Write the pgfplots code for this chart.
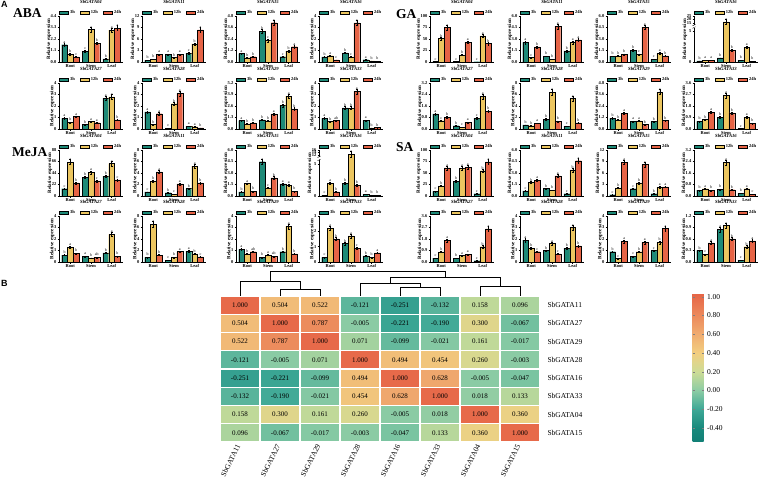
\documentclass[border=0pt]{standalone}
\usepackage{fontspec}
\setmainfont{Liberation Serif}
\newfontfamily\sansf{Liberation Sans}
\usepackage{pgfplots}
\usepackage{pgfplotstable}
\pgfplotsset{compat=1.18}

\definecolor{c3}{RGB}{30,138,120}
\definecolor{c12}{RGB}{236,198,96}
\definecolor{c24}{RGB}{230,100,70}
\newcommand{\fs}[1]{\fontsize{#1}{#1}\selectfont}

\pgfplotsset{
  /pgf/number format/assume math mode=true,
  chart/.style={
    anchor=north west, scale only axis, width=64pt, height=46pt,
    ybar=0pt, bar width=5.8pt, ymin=0, xmin=-0.55, xmax=2.55,
    axis lines=left, axis line style={-, line width=0.5pt},
    xtick={0,1,2}, xticklabels={Root,Stem,Leaf},
    tick align=outside, major tick length=1.5pt, tick style={line width=0.4pt, black},
    ticklabel style={font=\fs{4.5}\bfseries, inner sep=1pt},
    xticklabel style={inner sep=0.6pt},
    ylabel={Relative expression}, ylabel style={font=\fs{5}\bfseries}, ylabel shift=-5pt,
    title style={at={(0.5,1)}, anchor=south, yshift=6pt, inner sep=0pt, font=\fs{4.7}\bfseries\itshape},
    legend style={at={(0.5,1)}, anchor=south, draw=none, fill=none, legend columns=-1,
      font=\fs{4.5}\bfseries, inner sep=0pt, yshift=-1.5pt,
      /tikz/every even column/.append style={column sep=3pt}},
    clip=false,
  },
  bar/.style={draw=black, line width=0.3pt,
    error bars/y dir=both, error bars/y fixed relative=0.07,
    error bars/error bar style={line width=0.3pt, black},
    error bars/error mark options={rotate=90, mark size=0.9pt, line width=0.3pt, black},
    point meta=explicit symbolic, nodes near coords,
    every node near coord/.append style={font=\fs{4}, inner sep=0.3pt, yshift=1pt}},
  leg3/.style={legend image code/.code={\filldraw[fill=c3, draw=black, line width=0.2pt] (0pt,-1.6pt) rectangle (9pt,1.6pt);}},
  leg12/.style={legend image code/.code={\filldraw[fill=c12, draw=black, line width=0.2pt] (0pt,-1.6pt) rectangle (9pt,1.6pt);}},
  leg24/.style={legend image code/.code={\filldraw[fill=c24, draw=black, line width=0.2pt] (0pt,-1.6pt) rectangle (9pt,1.6pt);}},
  dec1/.style={yticklabel style={/pgf/number format/.cd, fixed, fixed zerofill, precision=1}},
  brkGA/.style={y coord trafo/.code={\pgfmathparse{(##1>10)*(6.37+(##1-15)*0.11)+(##1<=10)*(##1)}},
    yticklabels={0,5,15,20,25}},
  brkMJ/.style={y coord trafo/.code={\pgfmathparse{(##1>10)*(6.52+(##1-12)*0.19)+(##1<=10)*(##1)}},
    yticklabels={0,5,12,14,16}},
}

\newcommand{\chart}[8]{%
  \begin{axis}[chart, at={(#1pt,-#2pt)}, title={#3}, ymax=#4, ytick={#5}, #7]
    \addplot[bar, fill=c3, leg3] table[x=x, y=a, meta=la] {#6};
    \addplot[bar, fill=c12, leg12] table[x=x, y=b, meta=lb] {#6};
    \addplot[bar, fill=c24, leg24] table[x=x, y=c, meta=lc] {#6};
    \legend{3h,12h,24h}
    #8
  \end{axis}}

\newcommand{\brk}[2]{%
  \fill[white] ([xshift=-1.5pt]axis cs:-0.55,#1) rectangle ([xshift=1.5pt]axis cs:-0.55,#2);
  \draw[line width=0.4pt] ([xshift=-1.5pt,yshift=-0.8pt]axis cs:-0.55,#1) -- ++(3pt,1.6pt);
  \draw[line width=0.4pt] ([xshift=-1.5pt,yshift=-0.8pt]axis cs:-0.55,#2) -- ++(3pt,1.6pt);}

% ABA
\pgfplotstableread{
x a b c la lb lc
0 1.65 0.75 0.50 a b c
1 1.05 3.10 1.80 c a b
2 0.30 3.05 3.25 b a a
}\abaA
\pgfplotstableread{
x a b c la lb lc
0 0.45 0.70 2.00 b b a
1 2.00 1.15 2.00 a b a
2 2.30 4.70 8.40 c b a
}\abaB
\pgfplotstableread{
x a b c la lb lc
0 0.88 0.45 0.55 a b b
1 3.20 2.25 4.10 b c a
2 0.55 1.15 1.60 c b a
}\abaC
\pgfplotstableread{
x a b c la lb lc
0 0.45 0.55 0.18 b a c
1 0.80 0.45 3.40 b c a
2 0.20 0.10 0.08 a b b
}\abaD
\pgfplotstableread{
x a b c la lb lc
0 0.93 0.58 1.08 a b a
1 0.38 0.64 0.55 b a a
2 2.69 2.80 0.79 a a b
}\abaE
\pgfplotstableread{
x a b c la lb lc
0 1.48 0.39 1.33 a b a
1 0.06 2.20 3.10 c b a
2 0.22 0.20 0.10 a a b
}\abaF
\pgfplotstableread{
x a b c la lb lc
0 0.95 0.57 0.68 a b b
1 1.03 0.91 1.71 b b a
2 2.66 3.72 2.28 b a b
}\abaG
\pgfplotstableread{
x a b c la lb lc
0 0.93 0.64 0.73 a b ab
1 1.84 1.82 3.27 b b a
2 0.75 0.10 0.12 a b b
}\abaH
% GA
\pgfplotstableread{
x a b c la lb lc
0 1.0 51 75 c b a
1 1.0 15 43 c b a
2 0.6 57 40 c a b
}\gaA
\pgfplotstableread{
x a b c la lb lc
0 2.56 0.57 1.98 a c b
1 0.75 0.35 4.67 b b a
2 1.45 2.56 2.87 b a a
}\gaB
\pgfplotstableread{
x a b c la lb lc
0 0.75 0.80 1.01 b b b
1 1.54 1.01 4.54 b c a
2 0.35 1.15 0.80 c a b
}\gaC
\pgfplotstableread{
x a b c la lb lc
0 0.20 0.30 0.30 b a a
1 0.66 16.5 1.90 b a b
2 0.27 2.36 0.10 b a b
}\gaD
\pgfplotstableread{
x a b c la lb lc
0 1.05 0.58 0.82 a c b
1 0.23 0.12 0.47 b c a
2 0.75 2.27 1.24 c a b
}\gaE
\pgfplotstableread{
x a b c la lb lc
0 0.70 0.58 1.00 b b a
1 1.70 6.40 1.35 b a b
2 0.50 5.30 1.05 c a b
}\gaF
\pgfplotstableread{
x a b c la lb lc
0 1.12 0.95 1.65 b b a
1 0.80 0.84 0.46 a a b
2 0.77 3.86 0.88 b a b
}\gaG
\pgfplotstableread{
x a b c la lb lc
0 0.60 0.74 1.32 b b a
1 0.92 2.63 1.26 b a b
2 0.03 0.92 0.45 c a b
}\gaH
% MeJA
\pgfplotstableread{
x a b c la lb lc
0 14 65 25 c a b
1 36 45 29 b a c
2 38 62 31 b a c
}\mjA
\pgfplotstableread{
x a b c la lb lc
0 0.70 2.60 4.20 c b a
1 0.58 0.30 2.10 b c a
2 1.30 5.20 2.30 b a b
}\mjB
\pgfplotstableread{
x a b c la lb lc
0 0.53 1.62 0.60 b a b
1 4.47 1.05 2.37 a c b
2 1.58 1.40 0.60 a a b
}\mjC
\pgfplotstableread{
x a b c la lb lc
0 0.10 2.00 0.65 c a b
1 2.00 12.6 1.74 b a b
2 0.25 0.15 0.10 a b b
}\mjD
\pgfplotstableread{
x a b c la lb lc
0 0.60 1.30 0.75 b a b
1 0.50 0.35 0.40 a b ab
2 0.80 2.40 0.50 b a b
}\mjE
\pgfplotstableread{
x a b c la lb lc
0 0.80 6.60 1.20 b a b
1 0.30 0.80 1.80 c b a
2 1.90 1.40 0.90 a b c
}\mjF
\pgfplotstableread{
x a b c la lb lc
0 1.10 0.70 0.90 a b ab
1 0.40 0.60 0.50 b a ab
2 0.90 3.10 0.70 b a b
}\mjG
\pgfplotstableread{
x a b c la lb lc
0 0.30 2.20 1.50 c a b
1 1.20 1.70 0.90 b a c
2 0.40 0.30 0.60 b b a
}\mjH
% SA
\pgfplotstableread{
x a b c la lb lc
0 10 22 61 c b a
1 32 60 62 b a a
2 5 55 74 c b a
}\saA
\pgfplotstableread{
x a b c la lb lc
0 0.66 1.75 2.06 c b a
1 0.96 0.75 2.63 b b a
2 0.30 3.40 4.60 c b a
}\saB
\pgfplotstableread{
x a b c la lb lc
0 0.35 2.10 8.80 c b a
1 1.90 3.40 8.20 c b a
2 0.60 2.30 2.40 b a a
}\saC
\pgfplotstableread{
x a b c la lb lc
0 0.40 0.51 0.40 b a b
1 0.47 2.34 0.44 b a b
2 0.19 0.51 0.12 b a c
}\saD
\pgfplotstableread{
x a b c la lb lc
0 0.30 0.80 1.70 c b a
1 0.30 0.50 0.60 b a a
2 0.10 1.20 2.60 c b a
}\saE
\pgfplotstableread{
x a b c la lb lc
0 1.90 1.20 0.90 a b c
1 1.00 1.60 0.70 b a c
2 1.20 3.00 1.40 b a b
}\saF
\pgfplotstableread{
x a b c la lb lc
0 0.90 0.30 1.80 b c a
1 0.50 0.90 1.70 c b a
2 1.00 1.70 2.90 c b a
}\saG
\pgfplotstableread{
x a b c la lb lc
0 0.30 0.20 0.50 b c a
1 0.85 0.95 0.60 a a b
2 0.05 0.40 0.55 c b a
}\saH

\begin{document}
\begin{tikzpicture}
\path[use as bounding box] (0,0) rectangle (766pt,-489pt);
\node[anchor=north west, font=\sansf\bfseries\fs{9}, inner sep=0] at (1pt,-1pt) {A};
\node[anchor=north west, font=\sansf\bfseries\fs{9}, inner sep=0] at (1pt,-280pt) {B};
\node[anchor=west, font=\bfseries\fs{13.5}, inner sep=0] at (13pt,-13.5pt) {ABA};
\node[anchor=west, font=\bfseries\fs{13.5}, inner sep=0] at (396pt,-14pt) {GA};
\node[anchor=west, font=\bfseries\fs{13.5}, inner sep=0] at (12pt,-152pt) {MeJA};
\node[anchor=west, font=\bfseries\fs{13.5}, inner sep=0] at (396pt,-147pt) {SA};

% ABA
\chart{59}{16}{SbGATA04}{4.4}{0,1.1,2.2,3.3,4.4}{\abaA}{dec1}{}
\chart{142}{16}{SbGATA11}{12}{0,3,6,9,12}{\abaB}{}{}
\chart{236}{16}{SbGATA15}{4.8}{0,1.2,2.4,3.6,4.8}{\abaC}{dec1}{}
\chart{319}{16}{SbGATA16}{4}{0,1,2,3,4}{\abaD}{}{}
\chart{59}{83}{SbGATA27}{4}{0,1,2,3,4}{\abaE}{}{}
\chart{142}{83}{SbGATA28}{4}{0,1,2,3,4}{\abaF}{}{}
\chart{236}{83}{SbGATA29}{5.2}{0,1.3,2.6,3.9,5.2}{\abaG}{dec1}{}
\chart{319}{83}{SbGATA33}{4}{0,1,2,3,4}{\abaH}{}{}
% GA
\chart{430}{16}{SbGATA04}{100}{0,25,50,75,100}{\gaA}{}{}
\chart{520}{16}{SbGATA11}{6}{0,1.5,3,4.5,6}{\gaB}{dec1}{}
\chart{607}{16}{SbGATA15}{6}{0,1.5,3,4.5,6}{\gaC}{dec1}{}
\chart{694}{16}{SbGATA16}{25}{0,5,15,20,25}{\gaD}{brkGA}{\brk{5.6}{6.0}}
\chart{430}{83}{SbGATA27}{3.2}{0,0.8,1.6,2.4,3.2}{\gaE}{dec1}{}
\chart{520}{83}{SbGATA28}{8}{0,2,4,6,8}{\gaF}{}{}
\chart{607}{83}{SbGATA29}{4.8}{0,1.2,2.4,3.6,4.8}{\gaG}{dec1}{}
\chart{694}{83}{SbGATA33}{3.6}{0,0.9,1.8,2.7,3.6}{\gaH}{dec1}{}
% MeJA
\chart{59}{150}{SbGATA04}{88}{0,22,44,66,88}{\mjA}{}{}
\chart{142}{150}{SbGATA11}{8}{0,2,4,6,8}{\mjB}{}{}
\chart{236}{150}{SbGATA15}{6}{0,1.5,3,4.5,6}{\mjC}{dec1}{}
\chart{319}{150}{SbGATA16}{16}{0,5,12,14,16}{\mjD}{brkMJ}{\brk{5.7}{6.2}}
\chart{59}{216}{SbGATA27}{4}{0,1,2,3,4}{\mjE}{}{}
\chart{142}{216}{SbGATA28}{8}{0,2,4,6,8}{\mjF}{}{}
\chart{236}{216}{SbGATA29}{4}{0,1,2,3,4}{\mjG}{}{}
\chart{319}{216}{SbGATA33}{3}{0,1,2,3}{\mjH}{}{}
% SA
\chart{430}{150}{SbGATA04}{100}{0,25,50,75,100}{\saA}{}{}
\chart{520}{150}{SbGATA11}{6}{0,1.5,3,4.5,6}{\saB}{dec1}{}
\chart{607}{150}{SbGATA15}{12}{0,3,6,9,12}{\saC}{}{}
\chart{694}{150}{SbGATA16}{3.2}{0,0.8,1.6,2.4,3.2}{\saD}{dec1}{}
\chart{430}{216}{SbGATA27}{3.6}{0,0.9,1.8,2.7,3.6}{\saE}{dec1}{}
\chart{520}{216}{SbGATA28}{4}{0,1,2,3,4}{\saF}{}{}
\chart{607}{216}{SbGATA29}{4}{0,1,2,3,4}{\saG}{}{}
\chart{694}{216}{SbGATA33}{1.2}{0,0.3,0.6,0.9,1.2}{\saH}{dec1}{}

% B: correlation heatmap
\begin{axis}[
  at={(220pt,-296pt)}, anchor=north west, scale only axis,
  width=320pt, height=146pt,
  xmin=-0.5, xmax=7.5, ymin=-0.5, ymax=7.5, y dir=reverse,
  axis line style={draw=none}, major tick length=0pt,
  xtick={0,...,7}, ytick={0,...,7},
  xticklabels={SbGATA11,SbGATA27,SbGATA29,SbGATA28,SbGATA16,SbGATA33,SbGATA04,SbGATA15},
  yticklabels={SbGATA11,SbGATA27,SbGATA29,SbGATA28,SbGATA16,SbGATA33,SbGATA04,SbGATA15},
  yticklabel pos=right,
  xticklabel style={rotate=63, anchor=east, font=\fs{7.5}},
  yticklabel style={anchor=west, font=\fs{7.5}, xshift=4pt},
  colormap={hm}{rgb255(0pt)=(18,128,118); rgb255(14pt)=(25,138,125); rgb255(34pt)=(62,168,150);
    rgb255(54pt)=(140,204,164); rgb255(74pt)=(205,220,150); rgb255(94pt)=(242,206,128);
    rgb255(114pt)=(240,172,112); rgb255(134pt)=(236,138,92); rgb255(154pt)=(231,106,74);
    rgb255(158pt)=(229,100,70)},
  point meta min=-0.54, point meta max=1.04,
  colorbar,
  colorbar style={at={(parent axis.north east)}, anchor=north west, xshift=144pt, yshift=3pt,
    width=11pt, height=148pt, axis line style={draw=none},
    ytick={-0.4,-0.2,0,0.2,0.4,0.6,0.8,1.0},
    major tick length=2pt,
    yticklabel style={font=\fs{7.5}, /pgf/number format/.cd, fixed, fixed zerofill, precision=2}},
  clip=false,
]
\addplot[matrix plot*, mesh/cols=8, point meta=explicit, draw=white, line width=1.2pt,
  nodes near coords={\pgfmathprintnumber[fixed,fixed zerofill,precision=3]{\pgfplotspointmeta}},
  every node near coord/.append style={anchor=center, font=\fs{7}}]
table[meta=c] {
x y c
0 0 1.000
1 0 0.504
2 0 0.522
3 0 -0.121
4 0 -0.251
5 0 -0.132
6 0 0.158
7 0 0.096
0 1 0.504
1 1 1.000
2 1 0.787
3 1 -0.005
4 1 -0.221
5 1 -0.190
6 1 0.300
7 1 -0.067
0 2 0.522
1 2 0.787
2 2 1.000
3 2 0.071
4 2 -0.099
5 2 -0.021
6 2 0.161
7 2 -0.017
0 3 -0.121
1 3 -0.005
2 3 0.071
3 3 1.000
4 3 0.494
5 3 0.454
6 3 0.260
7 3 -0.003
0 4 -0.251
1 4 -0.221
2 4 -0.099
3 4 0.494
4 4 1.000
5 4 0.628
6 4 -0.005
7 4 -0.047
0 5 -0.132
1 5 -0.190
2 5 -0.021
3 5 0.454
4 5 0.628
5 5 1.000
6 5 0.018
7 5 0.133
0 6 0.158
1 6 0.300
2 6 0.161
3 6 0.260
4 6 -0.005
5 6 0.018
6 6 1.000
7 6 0.360
0 7 0.096
1 7 -0.067
2 7 -0.017
3 7 -0.003
4 7 -0.047
5 7 0.133
6 7 0.360
7 7 1.000
};
% dendrogram
\addplot[black, line width=0.6pt, forget plot] coordinates {(1,-0.5) (1,-0.85) (2,-0.85) (2,-0.5)};
\addplot[black, line width=0.6pt, forget plot] coordinates {(0,-0.5) (0,-1.3) (1.5,-1.3) (1.5,-0.85)};
\addplot[black, line width=0.6pt, forget plot] coordinates {(4,-0.5) (4,-0.95) (5,-0.95) (5,-0.5)};
\addplot[black, line width=0.6pt, forget plot] coordinates {(3,-0.5) (3,-1.2) (4.5,-1.2) (4.5,-0.95)};
\addplot[black, line width=0.6pt, forget plot] coordinates {(6,-0.5) (6,-1.05) (7,-1.05) (7,-0.5)};
\addplot[black, line width=0.6pt, forget plot] coordinates {(3.75,-1.2) (3.75,-1.5) (6.5,-1.5) (6.5,-1.05)};
\addplot[black, line width=0.6pt, forget plot] coordinates {(0.75,-1.3) (0.75,-1.85) (5.125,-1.85) (5.125,-1.5)};
\end{axis}
\end{tikzpicture}
\end{document}
